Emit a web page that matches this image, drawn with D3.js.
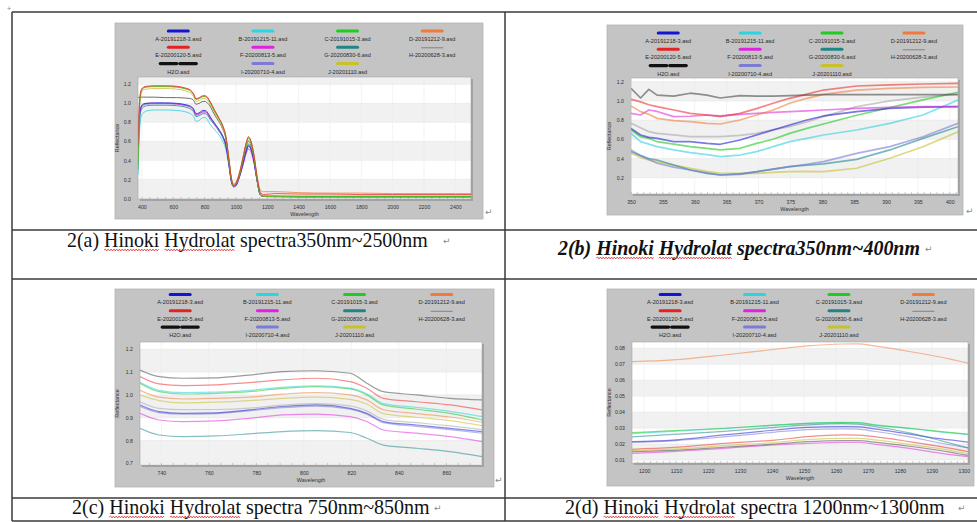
<!DOCTYPE html>
<html><head><meta charset="utf-8">
<script src="https://cdn.jsdelivr.net/npm/d3@7"></script>
<style>body{margin:0;background:#fff;overflow:hidden}</style>
</head><body>
<svg id="c" width="977" height="522"></svg>
<script>
// ---------------- DATA ----------------
const seriesIds = ["A","B","C","D","E","F","G","H","H2O","I","J"];
const legendLabels = ["A-20191218-3.asd","B-20191215-11.asd","C-20191015-3.asd","D-20191212-9.asd",
  "E-20200120-5.asd","F-20200813-5.asd","G-20200830-6.asd","H-20200628-3.asd",
  "H2O.asd","I-20200710-4.asd","J-20201110.asd"];
const captions = ["2(a) Hinoki Hydrolat spectra350nm~2500nm","2(b) Hinoki Hydrolat spectra350nm~400nm",
  "2(c) Hinoki Hydrolat spectra 750nm~850nm","2(d) Hinoki Hydrolat spectra 1200nm~1300nm"];

// panel (a) 350-2500 nm
const wl_a = [375,385,395,410,430,480,550,620,680,710,730,745,765,790,805,820,835,860,890,915,935,955,970,985,1000,1020,1045,1065,1080,1095,1115,1135,1155,1175,1250,1400,1600,1800,2000,2200,2400,2500];
const a_E = [0.55,1.02,1.14,1.17,1.18,1.185,1.185,1.18,1.16,1.14,1.10,1.05,1.06,1.08,1.08,1.06,1.02,0.94,0.85,0.77,0.66,0.42,0.22,0.14,0.16,0.25,0.43,0.58,0.65,0.61,0.46,0.23,0.07,0.04,0.05,0.045,0.045,0.04,0.04,0.04,0.04,0.04];
const a_C = [0.30,0.95,1.12,1.16,1.17,1.175,1.175,1.17,1.15,1.13,1.09,1.04,1.05,1.07,1.07,1.05,1.01,0.93,0.84,0.76,0.65,0.41,0.21,0.13,0.15,0.24,0.42,0.57,0.63,0.59,0.44,0.21,0.05,0.025,0.025,0.02,0.02,0.02,0.02,0.02,0.02,0.02];
const a_D = [0.45,1.00,1.13,1.165,1.175,1.18,1.18,1.175,1.155,1.135,1.095,1.045,1.055,1.075,1.075,1.055,1.015,0.935,0.845,0.765,0.655,0.415,0.22,0.15,0.17,0.26,0.43,0.58,0.64,0.60,0.45,0.23,0.09,0.07,0.07,0.06,0.055,0.055,0.05,0.05,0.05,0.05];
const a_J = [0.40,0.98,1.10,1.14,1.15,1.155,1.155,1.15,1.13,1.11,1.07,1.02,1.03,1.05,1.05,1.03,0.99,0.91,0.82,0.74,0.64,0.40,0.21,0.13,0.15,0.23,0.41,0.55,0.61,0.57,0.43,0.20,0.04,0.02,0.02,0.018,0.018,0.018,0.018,0.018,0.018,0.018];
const a_H = [1.06,1.065,1.065,1.065,1.065,1.065,1.06,1.06,1.055,1.05,1.03,0.99,1.0,1.02,1.02,1.0,0.97,0.89,0.81,0.73,0.63,0.40,0.20,0.13,0.15,0.23,0.40,0.54,0.60,0.56,0.42,0.20,0.04,0.02,0.02,0.015,0.015,0.015,0.015,0.015,0.015,0.015];
const a_A = [0.57,0.88,0.96,0.99,1.0,1.005,1.005,1.0,0.985,0.97,0.94,0.89,0.90,0.925,0.925,0.90,0.86,0.80,0.73,0.66,0.57,0.37,0.19,0.13,0.14,0.22,0.37,0.49,0.55,0.52,0.39,0.19,0.04,0.02,0.02,0.02,0.02,0.02,0.02,0.02,0.02,0.02];
const a_F = [0.84,0.90,0.97,0.995,1.0,1.0,1.0,0.995,0.98,0.96,0.93,0.88,0.89,0.91,0.91,0.89,0.85,0.79,0.72,0.65,0.56,0.36,0.18,0.12,0.13,0.21,0.35,0.47,0.52,0.49,0.37,0.18,0.04,0.02,0.015,0.015,0.015,0.015,0.015,0.015,0.015,0.015];
const a_I = [0.50,0.85,0.95,0.98,0.99,0.995,0.995,0.99,0.975,0.96,0.93,0.875,0.885,0.91,0.91,0.885,0.845,0.79,0.72,0.65,0.56,0.36,0.19,0.13,0.14,0.22,0.36,0.49,0.55,0.52,0.39,0.19,0.04,0.02,0.02,0.02,0.02,0.02,0.02,0.02,0.02,0.02];
const a_G = [0.35,0.80,0.93,0.96,0.975,0.98,0.98,0.975,0.96,0.94,0.91,0.86,0.87,0.89,0.89,0.87,0.83,0.78,0.71,0.64,0.55,0.36,0.19,0.13,0.14,0.22,0.37,0.51,0.57,0.54,0.40,0.19,0.04,0.02,0.02,0.02,0.02,0.02,0.02,0.02,0.02,0.02];
const a_B = [0.25,0.70,0.86,0.90,0.92,0.93,0.93,0.925,0.91,0.89,0.86,0.81,0.82,0.85,0.85,0.82,0.78,0.73,0.67,0.60,0.52,0.34,0.18,0.12,0.13,0.21,0.35,0.50,0.56,0.53,0.39,0.18,0.04,0.02,0.02,0.02,0.02,0.02,0.02,0.02,0.02,0.02];

// panel (b) 350-400 nm
const wl_b = [350,351.5,352.8,354.1,356.7,359.3,361.9,364.0,367.1,369.7,372.3,374.9,377.6,380.2,385.4,390.6,395.8,401.3];
const b_H = [1.13,1.03,1.12,1.06,1.05,1.08,1.06,1.03,1.055,1.05,1.05,1.055,1.06,1.065,1.065,1.065,1.065,1.065];
const b_E = [1.016,0.99,0.96,0.94,0.905,0.87,0.853,0.836,0.87,0.92,0.975,1.027,1.07,1.113,1.155,1.166,1.176,1.183];
const b_D = [0.947,0.888,0.86,0.818,0.794,0.784,0.766,0.759,0.801,0.853,0.905,0.975,1.027,1.068,1.113,1.131,1.141,1.145];
const b_F = [0.87,0.853,0.905,0.89,0.836,0.84,0.853,0.843,0.86,0.87,0.88,0.888,0.895,0.905,0.922,0.933,0.94,0.94];
const b_A = [0.714,0.645,0.62,0.61,0.575,0.575,0.558,0.548,0.593,0.645,0.697,0.749,0.801,0.843,0.888,0.922,0.935,0.94];
const b_C = [0.697,0.627,0.61,0.575,0.55,0.523,0.505,0.489,0.506,0.558,0.60,0.662,0.714,0.759,0.85,0.93,1.01,1.09];
const b_B = [0.662,0.575,0.55,0.523,0.49,0.461,0.44,0.419,0.436,0.471,0.523,0.575,0.61,0.645,0.697,0.766,0.853,1.009];
const b_I = [0.489,0.43,0.39,0.35,0.31,0.28,0.25,0.228,0.235,0.26,0.29,0.315,0.34,0.367,0.454,0.523,0.627,0.766];
const b_G = [0.471,0.43,0.40,0.384,0.332,0.28,0.245,0.228,0.24,0.263,0.29,0.315,0.33,0.343,0.391,0.489,0.61,0.731];
const b_J = [0.454,0.41,0.385,0.367,0.33,0.298,0.265,0.245,0.245,0.245,0.255,0.263,0.265,0.263,0.298,0.402,0.523,0.679];
const b_H2O = [0.766,0.72,0.68,0.662,0.645,0.627,0.627,0.627,0.64,0.662,0.70,0.732,0.78,0.836,0.94,1.0,1.04,1.069];

// panel (c) 750-850 nm
const wl_c = [731,739,749,763,777,791,805,819.5,826.5,833.5,847.5,861.5,875];
const c_H = [1.109,1.08,1.073,1.075,1.087,1.102,1.106,1.095,1.051,1.014,1.0,0.985,0.978];
const c_E = [1.08,1.048,1.041,1.044,1.054,1.066,1.073,1.058,1.029,0.985,0.97,0.956,0.934];
const c_B = [1.055,1.02,1.01,1.012,1.02,1.033,1.04,1.03,1.005,0.962,0.945,0.928,0.905];
const c_C = [1.051,1.014,1.004,1.007,1.014,1.029,1.036,1.026,1.0,0.956,0.937,0.919,0.89];
const c_D = [1.02,0.99,0.982,0.985,0.99,1.003,1.01,1.0,0.978,0.935,0.918,0.903,0.88];
const c_J = [1.0,0.975,0.965,0.968,0.975,0.985,0.99,0.98,0.96,0.918,0.902,0.887,0.865];
const c_H2O = [0.97,0.941,0.935,0.936,0.942,0.955,0.962,0.952,0.93,0.893,0.878,0.864,0.848];
const c_A = [0.956,0.927,0.919,0.921,0.934,0.949,0.956,0.941,0.919,0.883,0.868,0.853,0.839];
const c_I = [0.95,0.922,0.915,0.918,0.93,0.944,0.951,0.937,0.915,0.878,0.862,0.848,0.832];
const c_F = [0.919,0.89,0.883,0.886,0.897,0.912,0.916,0.905,0.883,0.846,0.832,0.817,0.795];
const c_G = [0.853,0.824,0.817,0.82,0.829,0.839,0.843,0.835,0.81,0.78,0.766,0.751,0.729];

// panel (d) 1200-1300 nm
const wl_d = [1196,1209,1225,1241,1251,1262,1267,1272,1283,1293,1301.5];
const d_D = [0.0716,0.0727,0.0758,0.0794,0.0815,0.0827,0.0828,0.0815,0.078,0.0744,0.0706];
const d_C = [0.0271,0.0284,0.0299,0.0319,0.033,0.0334,0.0333,0.0319,0.0299,0.0278,0.0262];
const d_B = [0.0265,0.028,0.0297,0.0318,0.033,0.0336,0.0335,0.0322,0.0298,0.0275,0.0258];
const d_G = [0.0245,0.026,0.028,0.0305,0.032,0.0328,0.0325,0.031,0.027,0.022,0.0175];
const d_A = [0.0215,0.0225,0.0257,0.0288,0.0305,0.0309,0.0308,0.0295,0.0262,0.0232,0.0212];
const d_I = [0.021,0.022,0.0245,0.0275,0.029,0.0295,0.0293,0.028,0.0245,0.0205,0.0175];
const d_E = [0.0167,0.0179,0.0204,0.0225,0.0246,0.0257,0.0256,0.0246,0.0215,0.0184,0.0152];
const d_J = [0.0158,0.0168,0.019,0.021,0.0228,0.0236,0.0235,0.0226,0.0198,0.017,0.0138];
const d_H = [0.0152,0.016,0.018,0.02,0.0215,0.0222,0.0221,0.0212,0.0186,0.0158,0.0128];
const d_F = [0.0142,0.0152,0.0173,0.0194,0.0204,0.0211,0.021,0.02,0.0173,0.0142,0.0121];

// ticks
const xt_a = [400,600,800,1000,1200,1400,1600,1800,2000,2200,2400];
const xt_b = [350,355,360,365,370,375,380,385,390,395,400];
const xt_c = [740,760,780,800,820,840,860];
const xt_d = [1200,1210,1220,1230,1240,1250,1260,1270,1280,1290,1300];
const yt_a = [0,0.2,0.4,0.6,0.8,1.0,1.2];
const yt_b = [0.2,0.4,0.6,0.8,1.0,1.2];
const yt_c = [0.7,0.8,0.9,1.0,1.1,1.2];
const yt_d = [0.01,0.02,0.03,0.04,0.05,0.06,0.07,0.08];

// ---------------- STYLE ----------------
const legendColor = {A:"#1414d2",B:"#28d6e2",C:"#20cc20",D:"#ee7a3c",E:"#e42222",F:"#e022e0",G:"#1f8585",H:"#8a8a8a",H2O:"#111",I:"#7c7cd6",J:"#c9c227"};
const plotColor = {A:"#2020d0",B:"#30d0e0",C:"#20c820",D:"#f08040",E:"#f03030",F:"#e030e0",G:"#208a8a",H:"#4a4a4a",H2O:"#a8a8a8",I:"#7878d8",J:"#c8c030"};
const serif = "Liberation Serif";
const sans = "Liberation Sans";
const svg = d3.select("#c");

// ---------------- TABLE ----------------
const tbl = svg.append("g").attr("stroke","#3a3a3a").attr("stroke-width",1.5);
[[12,12,977,12],[12,230,977,230],[12,279,977,279],[12,498,977,498],[12,521,977,521],[12,12,12,521],[505,12,505,521]]
  .forEach(l=>tbl.append("line").attr("x1",l[0]).attr("y1",l[1]).attr("x2",l[2]).attr("y2",l[3]));
svg.append("text").attr("x",7).attr("y",11).attr("font-size",7).attr("fill","#888").attr("font-family",sans).text("+");

// ---------------- PANELS ----------------
function pack(wl, obj){ return Object.keys(obj).map(k=>({id:k, pts:wl.map((w,i)=>[w,obj[k][i]])})); }
const panels = [
 {box:[115,23,368,196], plot:[138,77,333,122], xd:[375,2500], yd:[-0.007,1.277], xt:xt_a, yt:yt_a, yf:".1f", legTop:8, minor:50, lw:1.0, op:0.8, curve:d3.curveMonotoneX,
  series:pack(wl_a,{B:a_B,G:a_G,I:a_I,F:a_F,A:a_A,H:a_H,J:a_J,D:a_D,C:a_C,E:a_E})},
 {box:[607,25,356,190], plot:[631,78,327,116], xd:[350,401.3], yd:[0.03,1.2385], xt:xt_b, yt:yt_b, yf:".1f", legTop:8, minor:1, lw:1.7, op:0.6, curve:d3.curveLinear,
  series:pack(wl_b,{H2O:b_H2O,J:b_J,G:b_G,I:b_I,B:b_B,C:b_C,A:b_A,F:b_F,D:b_D,E:b_E,H:b_H})},
 {box:[115,289,379,198], plot:[140,342,342,123], xd:[731,875], yd:[0.6925,1.232], xt:xt_c, yt:yt_c, yf:".1f", legTop:5.5, minor:5, lw:1.2, op:0.55, curve:d3.curveMonotoneX,
  series:pack(wl_c,{G:c_G,F:c_F,I:c_I,A:c_A,H2O:c_H2O,J:c_J,D:c_D,C:c_C,B:c_B,E:c_E,H:c_H})},
 {box:[607,289,367,197], plot:[632,342,336,121], xd:[1196.2,1301.3], yd:[0.00812,0.08395], xt:xt_d, yt:yt_d, yf:".2f", legTop:5.5, minor:2, lw:1.2, op:0.55, curve:d3.curveMonotoneX,
  series:pack(wl_d,{F:d_F,H:d_H,J:d_J,E:d_E,I:d_I,A:d_A,G:d_G,B:d_B,C:d_C,D:d_D})}
];
const colFrac = [0.172,0.402,0.632,0.862];

panels.forEach((p,pi)=>{
  const [bx,by,bw,bh] = p.box, [px,py,pw,ph] = p.plot;
  const g = svg.append("g");
  g.append("rect").attr("x",bx).attr("y",by).attr("width",bw).attr("height",bh).attr("fill","#c4c4c4").attr("stroke","#b4b4b4").attr("stroke-width",0.8);
  // legend
  seriesIds.forEach((id,i)=>{
    const row = Math.floor(i/4), col = i%4;
    const cx = bx + bw*colFrac[col];
    const sy = by + p.legTop + row*16.3;
    if(id==="H"){
      g.append("line").attr("x1",cx-11).attr("x2",cx+11).attr("y1",sy+0.5).attr("y2",sy+0.5).attr("stroke","#7a7a7a").attr("stroke-width",0.9);
    } else if(id==="H2O"){
      [[-18,-1.5],[1.5,18]].forEach(s=>g.append("line").attr("x1",cx+s[0]).attr("x2",cx+s[1]).attr("y1",sy).attr("y2",sy).attr("stroke",legendColor[id]).attr("stroke-width",3.2).attr("stroke-linecap","round"));
    } else {
      g.append("line").attr("x1",cx-10).attr("x2",cx+10).attr("y1",sy).attr("y2",sy).attr("stroke",legendColor[id]).attr("stroke-width",3).attr("stroke-linecap","round");
    }
    g.append("text").attr("x",cx).attr("y",sy+8).attr("dy","0.35em").attr("text-anchor","middle")
      .attr("font-family",sans).attr("font-size",5.6).attr("fill","#2a2a2a").text(legendLabels[i]);
  });
  // plot area
  g.append("rect").attr("x",px+2).attr("y",py+2).attr("width",pw).attr("height",ph).attr("fill","#a3a3a3");
  g.append("rect").attr("x",px).attr("y",py).attr("width",pw).attr("height",ph).attr("fill","#fff");
  const x = d3.scaleLinear().domain(p.xd).range([px,px+pw]);
  const y = d3.scaleLinear().domain(p.yd).range([py+ph,py]);
  // bands
  const edges = [p.yd[0]].concat(p.yt.filter(v=>v>p.yd[0]&&v<p.yd[1])).concat([p.yd[1]]);
  for(let i=0;i<edges.length-1;i++){
    if(i%2===1) g.append("rect").attr("x",px).attr("width",pw).attr("y",y(edges[i+1])).attr("height",y(edges[i])-y(edges[i+1])).attr("fill","#f1f1f1");
  }
  // grid
  p.xt.forEach(v=>g.append("line").attr("x1",x(v)).attr("x2",x(v)).attr("y1",py).attr("y2",py+ph).attr("stroke","#ececec").attr("stroke-width",0.6));
  p.yt.forEach(v=>g.append("line").attr("x1",px).attr("x2",px+pw).attr("y1",y(v)).attr("y2",y(v)).attr("stroke","#e2e2e2").attr("stroke-width",0.5));
  // minor ticks
  d3.range(Math.ceil(p.xd[0]/p.minor)*p.minor, p.xd[1], p.minor).forEach(v=>
    g.append("line").attr("x1",x(v)).attr("x2",x(v)).attr("y1",py+ph).attr("y2",py+ph-2).attr("stroke","#9a9a9a").attr("stroke-width",0.5));
  // lines
  const cid = "clip"+pi;
  svg.append("clipPath").attr("id",cid).append("rect").attr("x",px).attr("y",py).attr("width",pw).attr("height",ph);
  const line = d3.line().x(d=>x(d[0])).y(d=>y(d[1])).curve(p.curve);
  g.append("g").attr("clip-path",`url(#${cid})`).selectAll("path").data(p.series).join("path")
    .attr("d",d=>line(d.pts)).attr("fill","none").attr("stroke",d=>plotColor[d.id])
    .attr("stroke-width",d=>d.id==="H"&&pi===0?0.9:p.lw).attr("stroke-opacity",d=>d.id==="H"&&pi===0?0.9:p.op)
    .attr("stroke-linejoin","round");
  g.append("rect").attr("x",px).attr("y",py).attr("width",pw).attr("height",ph).attr("fill","none").attr("stroke","#9c9c9c").attr("stroke-width",0.5);
  // axes
  const ax = g.append("g").attr("transform",`translate(0,${py+ph})`)
    .call(d3.axisBottom(x).tickValues(p.xt).tickFormat(d3.format("d")).tickSize(0).tickPadding(6));
  const ay = g.append("g").attr("transform",`translate(${px},0)`)
    .call(d3.axisLeft(y).tickValues(p.yt).tickFormat(d3.format(p.yf)).tickSize(0).tickPadding(7));
  [ax,ay].forEach(a=>{a.select(".domain").remove(); a.selectAll("text").attr("font-family",sans).attr("font-size",5.2).attr("fill","#333");});
  g.append("text").attr("x",px+pw/2).attr("y",py+ph+17).attr("text-anchor","middle").attr("font-family",sans).attr("font-size",5.4).attr("fill","#333").text("Wavelength");
  g.append("text").attr("transform",`translate(${bx+4},${py+ph/2}) rotate(-90)`).attr("text-anchor","middle")
    .attr("font-family",sans).attr("font-size",5.4).attr("fill","#333").text("Reflectance");
});

// ---------------- CAPTIONS ----------------
const capPos = [[67,428,247,false,443],[558,920,255,true,925],[72,430,514,false,434],[565,945,514,false,958]];
captions.forEach((txt,i)=>{
  const [x0,x1,base,bi,rx] = capPos[i];
  const t = svg.append("text").attr("x",x0).attr("y",base).attr("font-family",serif).attr("font-size",16)
    .attr("fill","#111").attr("font-weight",bi?"bold":"normal").attr("font-style",bi?"italic":"normal").text(txt);
  const w = t.node().getComputedTextLength();
  t.attr("font-size",16*(x1-x0)/w);
  ["Hinoki","Hydrolat"].forEach(word=>{
    const k = txt.indexOf(word);
    const s = t.node().getStartPositionOfChar(k).x, e = t.node().getEndPositionOfChar(k+word.length-1).x;
    let d = `M${s},${base+3}`; let up = true;
    for(let xx=s+1.4; xx<=e; xx+=1.4){ d += `L${xx},${base+3+(up?-0.9:0.9)}`; up=!up; }
    svg.append("path").attr("d",d).attr("fill","none").attr("stroke","#e02020").attr("stroke-width",0.8);
  });
  svg.append("text").attr("x",rx).attr("y",base-3).attr("font-family","DejaVu Sans").attr("font-size",9).attr("fill","#8a8a8a").text("↵");
});
// paragraph marks next to figures
[[485,215],[495,483],[966,214]].forEach(m=>svg.append("text").attr("x",m[0]).attr("y",m[1]).attr("font-family","DejaVu Sans").attr("font-size",9).attr("fill","#8a8a8a").text("↵"));
</script>
</body></html>
